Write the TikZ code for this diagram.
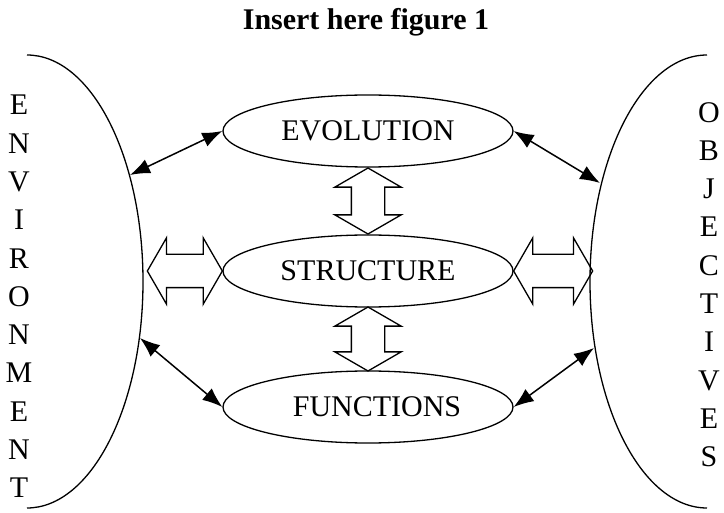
\documentclass[tikz,border=0pt]{standalone}
\usepackage{fontspec}
\setmainfont{Liberation Serif}
\usetikzlibrary{shapes.geometric, shapes.arrows, arrows.meta, calc, positioning}
\tikzstyle{block} = [ellipse, line width=1.3pt, minimum width=290pt, minimum height=72pt, inner sep=0pt, text centered, draw=black, font=\fontsize{30}{36}\selectfont]
\tikzstyle{column} = [align=center, inner sep=0pt, anchor=north, font=\fontsize{30}{38.3}\selectfont]
\tikzstyle{side} = [line width=1.3pt]
\tikzstyle{arrow} = [line width=1.5pt, {Latex[length=20pt,width=15pt]}-{Latex[length=20pt,width=15pt]}]
\tikzstyle{hollow} = [double arrow, draw=black, line width=1.3pt, double arrow tip angle=120, double arrow head extend=16.5pt, inner xsep=0pt, inner ysep=16pt]

\begin{document}
\begin{tikzpicture}[x=1pt, y=-1pt]
	\useasboundingbox (0,0) rectangle (724,513);
	\node (Title) [anchor=base, font=\fontsize{30}{36}\selectfont\bfseries] at (366,30) {Insert here figure 1};

	\node (Evolution) [block] at (368,131) {EVOLUTION};
	\node (Structure) [block] at (368,271) {STRUCTURE};
	\node (Functions) [block] at (368,407) {\hspace*{18pt}FUNCTIONS};

	% the two sides
	\draw [side] (27,55) arc [start angle=-90, end angle=90, x radius=116, y radius=226.5];
	\draw [side] (707,55) arc [start angle=-90, end angle=-270, x radius=117, y radius=226.5];
	\node (Environment) [column] at (19,95) {E\\N\\V\\I\\R\\O\\N\\M\\E\\N\\T};
	\node (Objectives) [column] at (709,102) {O\\B\\J\\E\\C\\T\\I\\V\\E\\S};

	\coordinate (EnvTop) at (130,175);
	\coordinate (EnvBottom) at (140,338);
	\coordinate (ObjTop) at (600,183);
	\coordinate (ObjBottom) at (594,348);

	\node (HollowLeft) [hollow, minimum height=75pt] at ($(Structure.west)+(-37.5,0)$) {};
	\node (HollowRight) [hollow, minimum height=79pt] at ($(Structure.east)+(39.5,0)$) {};
	\node (HollowUp) [hollow, minimum height=66pt, rotate=90] at ($(Evolution.south)!0.5!(Structure.north)$) {};
	\node (HollowDown) [hollow, minimum height=64pt, rotate=90] at ($(Structure.south)!0.5!(Functions.north)$) {};

	\draw [arrow] (EnvTop) -- (Evolution.west);
	\draw [arrow] (EnvBottom) -- (Functions.west);
	\draw [arrow] (Evolution.east) -- (ObjTop);
	\draw [arrow] (Functions.east) -- (ObjBottom);
\end{tikzpicture}
\end{document}
